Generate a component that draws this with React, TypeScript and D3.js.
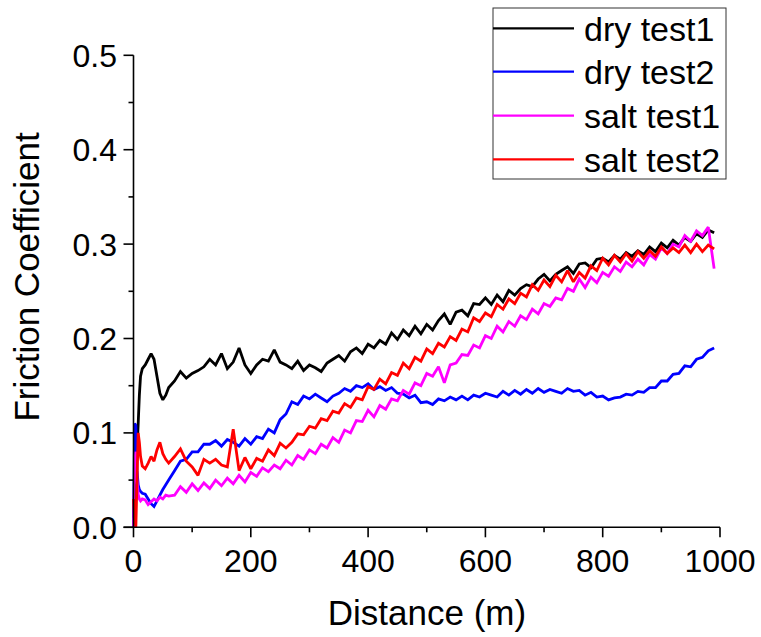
import React from "react";
import * as d3 from "d3";

// Sliding distance (m) at which the friction coefficient was sampled
const distance = [
  0, 2, 4, 6, 8, 10, 12, 15, 20, 25, 30, 35, 40, 45, 50, 55, 60,
  70, 80, 90, 100, 110, 120, 130, 140, 150, 160,
  170, 180, 190, 200, 210, 220, 230, 240, 250, 260,
  270, 280, 290, 300, 310, 320, 330, 340, 350, 360,
  370, 380, 390, 400, 410, 420, 430, 440, 450, 460,
  470, 480, 490, 500, 510, 520, 530, 540, 550, 560,
  570, 580, 590, 600, 610, 620, 630, 640, 650, 660,
  670, 680, 690, 700, 710, 720, 730, 740, 750, 760,
  770, 780, 790, 800, 810, 820, 830, 840, 850, 860,
  870, 880, 890, 900, 910, 920, 930, 940, 950, 960,
  970, 980, 990,
];

const dryTest1 = [
  0.01, 0.03, 0.05, 0.08, 0.11, 0.14, 0.16, 0.168, 0.172, 0.178, 0.184, 0.178, 0.16, 0.142, 0.135, 0.14, 0.148,
  0.155, 0.165, 0.158, 0.163, 0.166, 0.17, 0.178, 0.172, 0.184, 0.168,
  0.175, 0.19, 0.172, 0.163, 0.172, 0.178, 0.176, 0.188, 0.175, 0.172,
  0.168, 0.176, 0.166, 0.172, 0.169, 0.165, 0.174, 0.178, 0.182, 0.176,
  0.186, 0.19, 0.184, 0.194, 0.19, 0.198, 0.194, 0.206, 0.199, 0.209,
  0.203, 0.213, 0.205, 0.215, 0.209, 0.219, 0.226, 0.215, 0.228, 0.23,
  0.224, 0.237, 0.236, 0.243, 0.236, 0.246, 0.239, 0.251, 0.246, 0.253,
  0.257, 0.255, 0.263, 0.268, 0.261, 0.268, 0.272, 0.276, 0.269, 0.279,
  0.28, 0.275, 0.284, 0.285, 0.281, 0.288, 0.284, 0.291, 0.287, 0.293,
  0.289, 0.297, 0.292, 0.301, 0.296, 0.304, 0.299, 0.307, 0.303, 0.311,
  0.307, 0.315, 0.312,
];

const dryTest2 = [
  0.0, 0.11, 0.108, 0.06, 0.045, 0.04, 0.038, 0.036, 0.035, 0.03, 0.025, 0.022, 0.028, 0.034, 0.04, 0.045, 0.05,
  0.06, 0.07, 0.072, 0.08, 0.08, 0.088, 0.088, 0.092, 0.086, 0.093,
  0.09, 0.086, 0.094, 0.088, 0.096, 0.094, 0.104, 0.1, 0.114, 0.12,
  0.133, 0.13, 0.139, 0.136, 0.141, 0.137, 0.133, 0.139, 0.142, 0.147,
  0.144, 0.15, 0.148, 0.152, 0.146, 0.149, 0.145, 0.148, 0.142, 0.141,
  0.137, 0.14, 0.132, 0.133, 0.13, 0.136, 0.134, 0.138, 0.135, 0.139,
  0.135, 0.14, 0.138, 0.142, 0.14, 0.138, 0.144, 0.14, 0.145, 0.141,
  0.146, 0.142, 0.147, 0.143, 0.146, 0.144, 0.142, 0.147, 0.144, 0.145,
  0.14, 0.143, 0.138, 0.139, 0.135, 0.137, 0.138, 0.141, 0.14, 0.144,
  0.143, 0.148, 0.148, 0.155, 0.155, 0.162, 0.163, 0.171, 0.17, 0.178,
  0.18, 0.187, 0.19,
];

const saltTest1 = [
  0.0, 0.07, 0.08, 0.05, 0.035, 0.03, 0.028, 0.03, 0.029, 0.024, 0.027, 0.03, 0.028, 0.032, 0.03, 0.034, 0.033,
  0.034, 0.043, 0.037, 0.046, 0.039, 0.047, 0.041, 0.05, 0.044, 0.052,
  0.046, 0.055, 0.048, 0.058, 0.054, 0.063, 0.059, 0.066, 0.062, 0.071,
  0.066, 0.076, 0.072, 0.082, 0.078, 0.088, 0.084, 0.095, 0.09, 0.103,
  0.1, 0.113, 0.112, 0.124, 0.117, 0.129, 0.125, 0.136, 0.134, 0.145,
  0.141, 0.153, 0.15, 0.163, 0.16, 0.17, 0.153, 0.172, 0.174, 0.183,
  0.182, 0.193, 0.19, 0.203, 0.2, 0.213, 0.207, 0.218, 0.213, 0.224,
  0.22, 0.231, 0.226, 0.237, 0.234, 0.243, 0.241, 0.253, 0.25, 0.263,
  0.254, 0.265, 0.259, 0.27, 0.266, 0.276, 0.271, 0.281, 0.276, 0.284,
  0.278, 0.289, 0.284, 0.296, 0.29, 0.3, 0.297, 0.309, 0.303, 0.314,
  0.309, 0.318, 0.274,
];

const saltTest2 = [
  0.03, 0.01, 0.0, 0.05, 0.1, 0.09, 0.075, 0.065, 0.062, 0.068, 0.075, 0.07, 0.082, 0.09, 0.078, 0.072, 0.068,
  0.075, 0.083, 0.07, 0.064, 0.055, 0.072, 0.068, 0.072, 0.066, 0.064,
  0.104, 0.06, 0.074, 0.062, 0.073, 0.07, 0.082, 0.076, 0.089, 0.084,
  0.09, 0.099, 0.098, 0.107, 0.105, 0.115, 0.113, 0.123, 0.121, 0.131,
  0.127, 0.137, 0.135, 0.149, 0.146, 0.157, 0.152, 0.164, 0.161, 0.174,
  0.168, 0.18, 0.176, 0.189, 0.184, 0.195, 0.191, 0.202, 0.198, 0.21,
  0.207, 0.222, 0.218, 0.227, 0.223, 0.236, 0.231, 0.242, 0.237, 0.248,
  0.244, 0.257, 0.251, 0.262, 0.255, 0.267, 0.26, 0.272, 0.26, 0.27,
  0.264, 0.277, 0.272, 0.285, 0.278, 0.288, 0.281, 0.29, 0.282, 0.292,
  0.285, 0.293, 0.287, 0.297, 0.29, 0.296, 0.291, 0.299, 0.291, 0.3,
  0.292, 0.299, 0.295,
];

const seriesNames = ["dry test1", "dry test2", "salt test1", "salt test2"];
const seriesColors = ["#000000", "#0000ff", "#ff00ff", "#ff0000"];
const seriesValues = [dryTest1, dryTest2, saltTest1, saltTest2];

const xTicks = [0, 200, 400, 600, 800, 1000];
const xMinorTicks = [100, 300, 500, 700, 900];
const yTicks = [0, 0.1, 0.2, 0.3, 0.4, 0.5];
const yMinorTicks = [0.05, 0.15, 0.25, 0.35, 0.45];

const W = 761;
const H = 637;
const FONT = "'Liberation Sans', Arial, Helvetica, sans-serif";

export default function App() {
  const x = d3.scaleLinear().domain([0, 1000]).range([133.5, 720]);
  const y = d3.scaleLinear().domain([0, 0.5]).range([527.3, 55.3]);

  const line = d3
    .line<[number, number]>()
    .x((d) => x(d[0]))
    .y((d) => y(d[1]));

  const legendX0 = 493;
  const legendRows = [28.3, 71.7, 115.7, 159.3];

  return (
    <svg
      width={W}
      height={H}
      style={{ position: "absolute", left: 0, top: 0, background: "#fff" }}
      fontFamily={FONT}
    >
      <rect x={0} y={0} width={W} height={H} fill="#fff" />
      {seriesValues.map((vals, i) => {
        const pts: [number, number][] = distance
          .slice(0, vals.length)
          .map((d, j) => [d, vals[j]]);
        return (
          <path
            key={seriesNames[i]}
            d={line(pts) || ""}
            fill="none"
            stroke={seriesColors[i]}
            strokeWidth={2.8}
            strokeLinejoin="miter"
            strokeMiterlimit={2}
          />
        );
      })}

      {/* axes */}
      <line x1={x(0)} x2={x(0)} y1={y(0.5)} y2={y(0)} stroke="#000" strokeWidth={1.6} />
      <line x1={x(0) - 10} x2={x(1000)} y1={y(0)} y2={y(0)} stroke="#000" strokeWidth={1.6} />
      {yTicks.map((t) => (
        <g key={"yt" + t}>
          <line x1={x(0) - 10} x2={x(0)} y1={y(t)} y2={y(t)} stroke="#000" strokeWidth={1.6} />
          <text x={117} y={y(t) + 11.5} fontSize={32} textAnchor="end" fill="#000">
            {t.toFixed(1)}
          </text>
        </g>
      ))}
      {yMinorTicks.map((t) => (
        <line key={"ym" + t} x1={x(0) - 5} x2={x(0)} y1={y(t)} y2={y(t)} stroke="#000" strokeWidth={1.6} />
      ))}
      {xTicks.map((t) => (
        <g key={"xt" + t}>
          <line x1={x(t)} x2={x(t)} y1={y(0)} y2={y(0) + 10} stroke="#000" strokeWidth={1.6} />
          <text x={x(t)} y={572} fontSize={32} textAnchor="middle" fill="#000">
            {t}
          </text>
        </g>
      ))}
      {xMinorTicks.map((t) => (
        <line key={"xm" + t} x1={x(t)} x2={x(t)} y1={y(0)} y2={y(0) + 5} stroke="#000" strokeWidth={1.6} />
      ))}

      {/* axis titles */}
      <text x={427} y={625} fontSize={35} textAnchor="middle" fill="#000">
        Distance (m)
      </text>
      <text
        transform="translate(39,277) rotate(-90)"
        fontSize={35}
        textAnchor="middle"
        fill="#000"
      >
        Friction Coefficient
      </text>

      {/* legend */}
      <rect x={legendX0} y={8} width={233} height={171} fill="#fff" stroke="#333" strokeWidth={1} />
      {seriesNames.map((n, i) => (
        <g key={"lg" + n}>
          <line
            x1={legendX0}
            x2={574}
            y1={legendRows[i]}
            y2={legendRows[i]}
            stroke={seriesColors[i]}
            strokeWidth={2.2}
          />
          <text x={584} y={legendRows[i] + 12.5} fontSize={34} fill="#000">
            {n}
          </text>
        </g>
      ))}
    </svg>
  );
}
